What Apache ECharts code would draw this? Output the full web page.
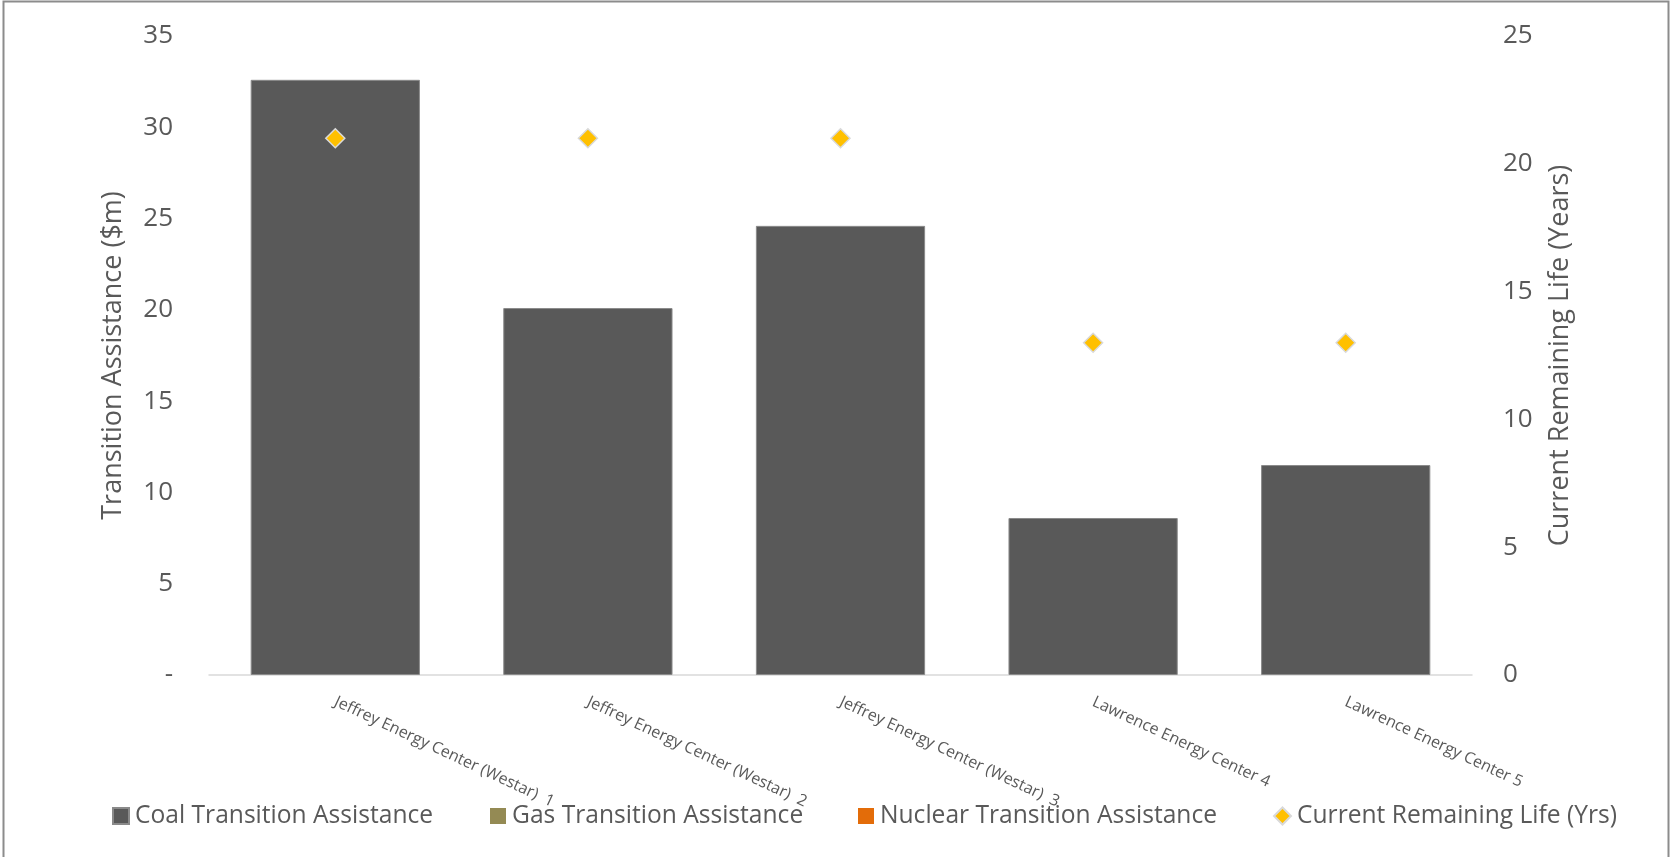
<!DOCTYPE html>
<html>
<head>
<meta charset="utf-8">
<script src="https://cdn.jsdelivr.net/npm/echarts@6/dist/echarts.min.js"></script>
<style>
html,body{margin:0;padding:0;background:#fff;}
#chart{width:1671px;height:857px;}
</style>
</head>
<body>
<div id="chart"></div>
<script>
const categories = [
  "Jeffrey Energy Center (Westar)  1",
  "Jeffrey Energy Center (Westar)  2",
  "Jeffrey Energy Center (Westar)  3",
  "Lawrence Energy Center 4",
  "Lawrence Energy Center 5"
];
const coalAssistance = [32.6, 20.1, 24.6, 8.6, 11.5];
const gasAssistance = [0, 0, 0, 0, 0];
const nuclearAssistance = [0, 0, 0, 0, 0];
const remainingLife = [21, 21, 21, 13, 13];
const leftAxisTicks = { min: 0, max: 35, interval: 5 };
const rightAxisTicks = { min: 0, max: 25, interval: 5 };

const FONT = "'Open Sans', sans-serif";
const TXT = '#595959';

const chart = echarts.init(document.getElementById('chart'), null, { renderer: 'canvas' });

function legendAt(name, left, icon, w, h) {
  return {
    left: left, top: 802, padding: 0,
    itemWidth: w, itemHeight: h,
    itemGap: 0,
    icon: icon,
    data: [name],
    textStyle: { fontFamily: FONT, fontSize: 24.6, color: TXT, lineHeight: 28, padding: [0, 0, 0, 1] },
    selectedMode: false
  };
}

const option = {
  backgroundColor: '#ffffff',
  animation: false,
  graphic: [{
    type: 'rect', silent: true, z: 100,
    shape: { x: 3.5, y: 1.5, width: 1665, height: 880 },
    style: { fill: 'none', stroke: '#8c8c8c', lineWidth: 2 }
  }],
  legend: [
    legendAt('Coal Transition Assistance', 112, 'rect', 16, 16),
    legendAt('Gas Transition Assistance', 490, 'rect', 16, 16),
    legendAt('Nuclear Transition Assistance', 858, 'rect', 16, 16),
    legendAt('Current Remaining Life (Yrs)', 1273, 'diamond', 17, 17)
  ],
  grid: { left: 209, right: 199, top: 36, bottom: 182, containLabel: false },
  xAxis: {
    type: 'category',
    data: categories,
    axisLine: { show: true, lineStyle: { color: '#d9d9d9', width: 1.5 } },
    axisTick: { show: false },
    axisLabel: {
      interval: 0, rotate: -25, margin: 26,
      fontFamily: FONT, fontSize: 16, color: TXT
    },
    splitLine: { show: false }
  },
  yAxis: [{
    type: 'value',
    min: leftAxisTicks.min, max: leftAxisTicks.max, interval: leftAxisTicks.interval,
    name: 'Transition Assistance ($m)',
    nameLocation: 'middle', nameGap: 82, nameRotate: 90,
    nameTextStyle: { fontFamily: FONT, fontSize: 27, color: TXT },
    axisLine: { show: false }, axisTick: { show: false },
    splitLine: { show: false },
    axisLabel: {
      margin: 36, fontFamily: FONT, fontSize: 26, color: TXT,
      formatter: v => v === 0 ? '-' : String(v)
    }
  }, {
    type: 'value',
    min: rightAxisTicks.min, max: rightAxisTicks.max, interval: rightAxisTicks.interval,
    name: 'Current Remaining Life (Years)',
    nameLocation: 'middle', nameGap: 75, nameRotate: 90,
    nameTextStyle: { fontFamily: FONT, fontSize: 27, color: TXT },
    axisLine: { show: false }, axisTick: { show: false },
    splitLine: { show: false },
    axisLabel: { margin: 31, fontFamily: FONT, fontSize: 26, color: TXT }
  }],
  series: [{
    name: 'Coal Transition Assistance',
    type: 'bar', stack: 'ta', barCategoryGap: '33%',
    data: coalAssistance,
    itemStyle: { color: '#595959', borderColor: '#8a8a8a', borderWidth: 1 }
  }, {
    name: 'Gas Transition Assistance',
    type: 'bar', stack: 'ta',
    data: gasAssistance,
    itemStyle: { color: '#948a54' }
  }, {
    name: 'Nuclear Transition Assistance',
    type: 'bar', stack: 'ta',
    data: nuclearAssistance,
    itemStyle: { color: '#e36c09' }
  }, {
    name: 'Current Remaining Life (Yrs)',
    type: 'scatter', yAxisIndex: 1,
    data: remainingLife,
    symbol: 'diamond', symbolSize: 19, z: 10,
    itemStyle: { color: '#ffc000', borderColor: '#d9d9d9', borderWidth: 1.5, opacity: 1 }
  }]
};
chart.setOption(option);
</script>
</body>
</html>
